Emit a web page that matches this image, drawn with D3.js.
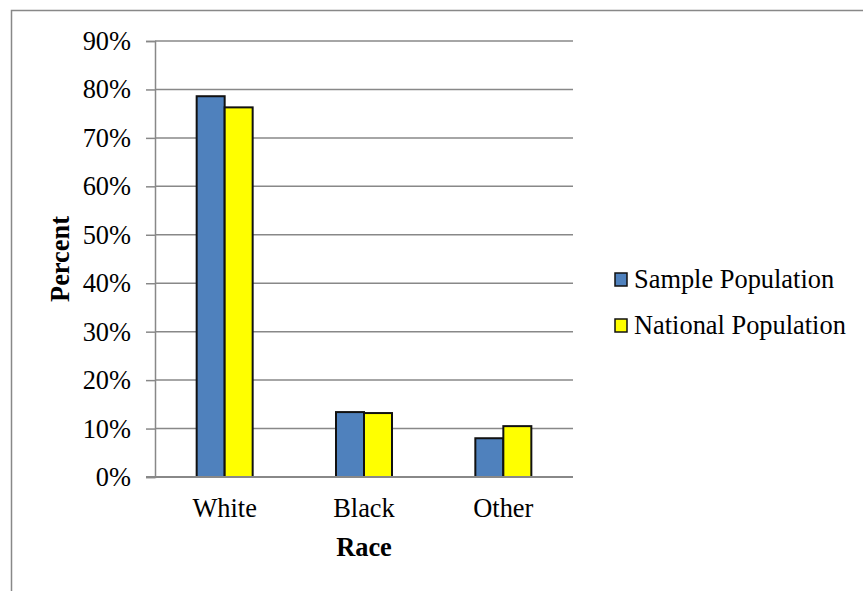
<!DOCTYPE html>
<html>
<head>
<meta charset="utf-8">
<script src="https://cdn.jsdelivr.net/npm/d3@7"></script>
<style>
  html, body { margin: 0; padding: 0; background: #fff; }
  svg { display: block; }
  svg text { font-family: "Liberation Serif", "Times New Roman", serif; fill: #000; }
</style>
</head>
<body>
<svg id="chart" width="863" height="591"></svg>
<script>
// Race breakdown: sample vs national population (percent)
const categories = ["White", "Black", "Other"];
const seriesNames = ["Sample Population", "National Population"];
const sampleValues = [78.6, 13.4, 8.0];
const nationalValues = [76.3, 13.2, 10.5];
const yTicks = [0, 10, 20, 30, 40, 50, 60, 70, 80, 90];
const seriesColors = ["#4f81bd", "#ffff00"];

const FONT = 26.4;
const svg = d3.select("#chart");

// outer chart frame
svg.append("rect")
  .attr("x", 11.5).attr("y", 10.5)
  .attr("width", 900).attr("height", 700)
  .attr("fill", "none").attr("stroke", "#888").attr("stroke-width", 1.5);

const plot = { left: 155, right: 573, top: 41, bottom: 477 };

const x = d3.scaleBand().domain(categories).range([plot.left, plot.right]);
const xInner = d3.scaleBand().domain(seriesNames).range([0, 56]);
const y = d3.scaleLinear().domain([0, 90]).range([plot.bottom, plot.top]);

// horizontal gridlines
svg.append("g").selectAll("line").data(yTicks.filter(t => t > 0)).join("line")
  .attr("x1", plot.left).attr("x2", plot.right)
  .attr("y1", d => y(d)).attr("y2", d => y(d))
  .attr("stroke", "#888").attr("stroke-width", 1.5);

// y axis
const yAxis = svg.append("g")
  .attr("transform", `translate(${plot.left},0)`)
  .call(d3.axisLeft(y).tickValues(yTicks).tickFormat(d => d + "%").tickSize(9).tickPadding(15))
  .attr("font-family", null).attr("font-size", null);
yAxis.select(".domain").attr("stroke", "#888").attr("stroke-width", 1.5);
yAxis.selectAll(".tick line").attr("stroke", "#888").attr("stroke-width", 1.5);
yAxis.selectAll(".tick text")
  .attr("font-size", FONT).attr("fill", "#000");

// bars
const data = categories.map((c, i) => ({ cat: c, vals: [sampleValues[i], nationalValues[i]] }));
const groups = svg.append("g").selectAll("g").data(data).join("g")
  .attr("transform", d => `translate(${x(d.cat) + x.bandwidth() / 2 - 28},0)`);
groups.selectAll("rect").data(d => d.vals.map((v, j) => ({ name: seriesNames[j], v, j }))).join("rect")
  .attr("x", d => xInner(d.name))
  .attr("width", xInner.bandwidth())
  .attr("y", d => y(d.v))
  .attr("height", d => y(0) - y(d.v))
  .attr("fill", d => seriesColors[d.j])
  .attr("stroke", "#111").attr("stroke-width", 2);

// x axis baseline
svg.append("line")
  .attr("x1", plot.left - 9).attr("x2", plot.right)
  .attr("y1", plot.bottom).attr("y2", plot.bottom)
  .attr("stroke", "#888").attr("stroke-width", 2);

// category labels
svg.append("g").selectAll("text").data(categories).join("text")
  .attr("x", d => x(d) + x.bandwidth() / 2)
  .attr("y", 517)
  .attr("text-anchor", "middle")
  .attr("font-size", FONT)
  .text(d => d);

// axis titles
svg.append("text")
  .attr("x", x("Black") + x.bandwidth() / 2).attr("y", 556)
  .attr("text-anchor", "middle").attr("font-size", FONT).attr("font-weight", "bold")
  .text("Race");
svg.append("text")
  .attr("transform", `translate(69,259) rotate(-90)`)
  .attr("text-anchor", "middle").attr("font-size", FONT).attr("font-weight", "bold")
  .text("Percent");

// legend
const legend = svg.append("g").selectAll("g").data(seriesNames).join("g")
  .attr("transform", (d, i) => `translate(615,${280 + i * 46})`);
legend.append("rect")
  .attr("x", 0).attr("y", -7).attr("width", 12).attr("height", 13)
  .attr("fill", (d, i) => seriesColors[i])
  .attr("stroke", "#111").attr("stroke-width", 1.5);
legend.append("text")
  .attr("x", 19).attr("y", 8)
  .attr("font-size", FONT)
  .text(d => d);
</script>
</body>
</html>
